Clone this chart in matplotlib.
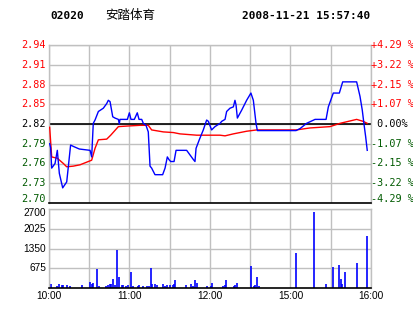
import matplotlib
matplotlib.use("Agg")
import matplotlib.pyplot as plt
import matplotlib.transforms as mtransforms

# ---------------- data ----------------
code = "02020"
name = "安踏体育"
stamp = "2008-11-21 15:57:40"
pre_close = 2.82

price_min = [0.5, 1.2, 2.0, 4.5, 6.2, 7.7, 10.2, 13.2, 14.4, 16.1, 18.1, 22.6, 30.6, 31.8, 33.0,
             34.3, 36.8, 40.5, 43.0, 44.2, 45.5, 47.5, 49.2, 51.7, 52.4, 52.9, 58.4, 59.9, 61.1,
             63.6, 65.8, 67.1, 69.1, 70.3, 72.3, 74.0, 75.3, 76.5, 79.0, 84.7, 86.5, 88.2, 89.4,
             90.7, 93.2, 94.7, 102.6, 107.6, 108.8, 109.6, 112.0, 115.0, 117.5, 118.8, 121.2,
             123.7, 127.5, 128.7, 131.2, 132.4, 134.9, 137.4, 138.6, 139.4, 140.4, 143.6, 147.3,
             150.5, 152.3, 154.3, 155.3, 162.2, 184.1, 187.1, 192.0, 198.3, 206.5, 208.2, 211.9,
             216.4, 218.9, 229.3, 231.8, 233.5, 234.7, 236.0, 237.2]
price_val = [2.790, 2.784, 2.753, 2.760, 2.780, 2.745, 2.723, 2.732, 2.755, 2.788, 2.786, 2.782,
             2.780, 2.770, 2.821, 2.826, 2.839, 2.844, 2.851, 2.856, 2.854, 2.831, 2.829, 2.827,
             2.820, 2.827, 2.827, 2.837, 2.827, 2.827, 2.837, 2.827, 2.827, 2.821, 2.818, 2.808,
             2.756, 2.753, 2.743, 2.743, 2.753, 2.770, 2.766, 2.763, 2.763, 2.780, 2.780, 2.766,
             2.763, 2.783, 2.796, 2.811, 2.826, 2.824, 2.811, 2.816, 2.821, 2.824, 2.827, 2.839,
             2.844, 2.846, 2.856, 2.849, 2.829, 2.841, 2.856, 2.867, 2.856, 2.821, 2.810, 2.810,
             2.810, 2.813, 2.821, 2.827, 2.827, 2.846, 2.867, 2.867, 2.884, 2.884, 2.862, 2.841,
             2.821, 2.801, 2.780]

avg_min = [0.5, 2.0, 6.2, 10.7, 13.2, 18.1, 23.1, 29.3, 31.8, 34.3, 36.8, 43.0, 46.0, 51.7, 59.1,
           67.8, 74.0, 76.5, 85.2, 92.7, 97.6, 110.1, 127.5, 131.2, 137.4, 147.3, 154.8, 184.3,
           194.5, 209.4, 216.9, 229.3, 234.2, 237.2]
avg_val = [2.815, 2.770, 2.768, 2.760, 2.755, 2.756, 2.758, 2.763, 2.765, 2.783, 2.796, 2.797,
           2.803, 2.816, 2.817, 2.818, 2.818, 2.811, 2.808, 2.807, 2.805, 2.803, 2.803, 2.802,
           2.805, 2.809, 2.811, 2.811, 2.814, 2.816, 2.821, 2.827, 2.824, 2.821]

vol_min = [1.3, 6.2, 7.2, 9.5, 10.7, 13.2, 15.7, 24.4, 30.6, 31.8, 33.0, 36.0, 37.3, 42.5, 43.7,
           45.5, 46.2, 47.9, 49.4, 50.9, 52.4, 54.2, 55.4, 57.4, 59.1, 61.4, 62.8, 66.1, 67.3,
           69.8, 72.8, 74.8, 75.8, 76.8, 79.2, 80.3, 84.7, 86.5, 88.2, 90.2, 92.6, 93.4, 94.2,
           102.1, 106.1, 107.6, 109.1, 110.6, 118.0, 120.5, 121.3, 130.0, 131.4, 132.2, 138.1,
           138.9, 140.4, 150.8, 153.0, 153.8, 155.3, 156.7, 183.9, 197.8, 206.7, 211.9, 216.4,
           217.9, 218.6, 220.8, 229.8, 237.2]
vol_val = [126, 68, 126, 90, 100, 100, 80, 100, 205, 120, 160, 650, 70, 70, 90,
           140, 120, 300, 100, 1300, 387, 90, 90, 80, 100, 547, 70, 70, 100,
           70, 70, 70, 683, 150, 150, 90, 140, 80, 90, 90, 90, 140, 270,
           100, 150, 70, 270, 160, 70, 70, 160, 70, 90, 270, 80,
           100, 160, 750, 80, 100, 375, 70, 1207, 2597, 140, 720, 790,
           300, 140, 547, 860, 1790]

price_ticks = [2.70, 2.73, 2.76, 2.79, 2.82, 2.85, 2.88, 2.91, 2.94]
pct_labels = ["-4.29 %", "-3.22 %", "-2.15 %", "-1.07 %", " 0.00%",
              "+1.07 %", "+2.15 %", "+3.22 %", "+4.29 %"]
vol_ticks = [675, 1350, 2025, 2700]
time_ticks = [0, 60, 120, 180, 240]
time_labels = ["10:00", "11:00", "12:00", "15:00", "16:00"]

# ---------------- style ----------------
RED = "#ff0000"
GREEN = "#005a00"
BLUE = "#0000ff"
GRID = "#c0c0c0"
MONO = "DejaVu Sans Mono"
SANS = "Liberation Sans"
FS = 7.3

fig = plt.figure(figsize=(4.14, 3.14), dpi=100)
fig.patch.set_facecolor("white")

W, H = 414, 314
def box(l, t, r, b):
    return [l / W, (H - b) / H, (r - l) / W, (b - t) / H]

ax = fig.add_axes(box(49, 45, 371, 203))
axv = fig.add_axes(box(49, 209, 371, 288))

def tcol(v):
    if v > pre_close + 1e-9:
        return RED
    if v < pre_close - 1e-9:
        return GREEN
    return "black"

def px_offset(base, dx, dy):
    return base + mtransforms.ScaledTranslation(dx / 100, dy / 100, fig.dpi_scale_trans)

# price panel
ax.set_xlim(0, 240)
ax.set_ylim(2.70, 2.94)
ax.set_xticks(range(0, 241, 30))
ax.set_yticks(price_ticks)
ax.grid(True, color=GRID, lw=1.0)
ax.set_axisbelow(True)
ax.tick_params(length=0, labelbottom=False, labelleft=False)
for s in ["top", "left", "right"]:
    ax.spines[s].set_color(GRID)
    ax.spines[s].set_linewidth(1.0)
ax.spines["bottom"].set_color("black")
ax.spines["bottom"].set_linewidth(1.2)
ax.axhline(pre_close, color="black", lw=1.2, zorder=2)

ax.plot(avg_min, avg_val, color=RED, lw=1.0, zorder=3)
ax.plot(price_min, price_val, color=BLUE, lw=1.0, zorder=4)

trans = mtransforms.blended_transform_factory(ax.transAxes, ax.transData)
for i, (v, s) in enumerate(zip(price_ticks, pct_labels)):
    dy = 4 if i == 0 else 0
    ax.text(0.0, v, f"{v:.2f}", transform=px_offset(trans, -3, dy), ha="right", va="center",
            family=MONO, fontsize=FS, color=tcol(v))
    ax.text(1.0, v, s, transform=px_offset(trans, 0, dy), ha="left", va="center", family=MONO,
            fontsize=FS, color=tcol(v))

# volume panel
axv.set_xlim(0, 240)
axv.set_ylim(0, 2700)
axv.vlines(vol_min, 0, vol_val, color=BLUE, lw=1.2)
axv.set_xticks(time_ticks)
axv.set_xticks(range(0, 241, 30), minor=True)
axv.set_xticklabels(time_labels, family=SANS, fontsize=FS)
axv.set_yticks(vol_ticks)
axv.tick_params(which="both", length=0, pad=2.5, labelleft=False)
axv.grid(True, which="both", color=GRID, lw=1.0)
axv.set_axisbelow(True)
transv = mtransforms.blended_transform_factory(axv.transAxes, axv.transData)
for v in vol_ticks:
    dy = -4 if v == vol_ticks[-1] else 0
    axv.text(0.0, v, str(v), transform=px_offset(transv, -3, dy), ha="right", va="center",
             family=SANS, fontsize=FS, color="black")
for s in ["top", "left", "right"]:
    axv.spines[s].set_color(GRID)
    axv.spines[s].set_linewidth(1.0)
axv.spines["bottom"].set_color("black")
axv.spines["bottom"].set_linewidth(1.2)

# header
fig.text(50 / W, 1 - 16 / H, code, family=MONO, weight="bold", fontsize=8, va="center", ha="left")
fig.text(105 / W, 1 - 16 / H, name, family=["Noto Sans CJK SC", "DejaVu Sans"], fontsize=9,
         va="center", ha="left")
fig.text(370 / W, 1 - 16 / H, stamp, family=MONO, weight="bold", fontsize=8, va="center", ha="right")

fig.savefig("out.png", dpi=100, facecolor="white")
